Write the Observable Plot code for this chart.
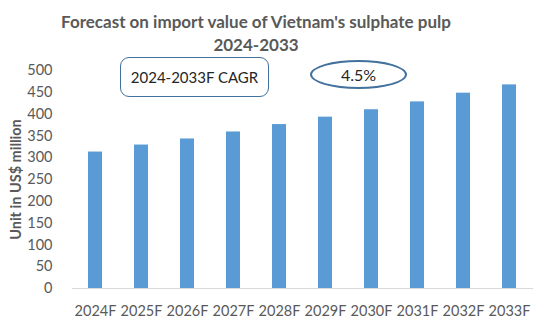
<!DOCTYPE html>
<html>
<head>
<meta charset="utf-8">
<script src="https://cdn.jsdelivr.net/npm/d3@7"></script>
<script src="https://cdn.jsdelivr.net/npm/@observablehq/plot@0.6"></script>
<style>
  html, body { margin: 0; padding: 0; background: #fff; }
  #wrap { position: relative; width: 550px; height: 333px; font-family: Lato, "Liberation Sans", sans-serif; background: #fff; }
  #chart svg { position: absolute; left: 0; top: 0; }
  .title { position: absolute; z-index: 2; left: 0; width: 512px; text-align: center; font-weight: bold; font-size: 17px; color: #595959; line-height: 1; }
  .box { position: absolute; z-index: 2; box-sizing: border-box; border: 1.6px solid #41719c; display: flex; align-items: center; justify-content: center; font-size: 15px; color: #262626; background: #fff; }
</style>
</head>
<body>
<div id="wrap">
  <div class="title" style="top:13px">Forecast on import value of Vietnam's sulphate pulp</div>
  <div class="title" style="top:36px">2024-2033</div>
  <div id="chart"></div>
  <div class="box" style="left:120px; top:57px; width:149px; height:40px; border-radius:9px;">2024-2033F CAGR</div>
  <div class="box" style="left:310px; top:60px; width:97px; height:29px; border-radius:50%; border-width:2px; font-size:16px;">4.5%</div>
</div>
<script>
const years = ["2024F","2025F","2026F","2027F","2028F","2029F","2030F","2031F","2032F","2033F"];
const values = [313, 329, 343, 359, 376, 393, 410, 428, 448, 467];
const yTicks = [0, 50, 100, 150, 200, 250, 300, 350, 400, 450, 500];
const yLabel = "Unit in US$ million";

const data = years.map((year, i) => ({year, value: values[i]}));

const chart = Plot.plot({
  width: 550,
  height: 333,
  marginTop: 70,
  marginBottom: 45,
  marginLeft: 72,
  marginRight: 17,
  style: {fontFamily: "Lato, 'Liberation Sans', sans-serif", fontSize: "14.5px", color: "#595959", background: "transparent"},
  x: {domain: years, paddingInner: 0.69, paddingOuter: 0.345, label: null},
  y: {domain: [0, 500], label: null},
  marks: [
    Plot.barY(data, {x: "year", y: "value", fill: "#5b9bd5"}),
    Plot.ruleY([0], {stroke: "#d9d9d9", strokeWidth: 1}),
    Plot.axisX({tickSize: 0, tickPadding: 17, fill: "#595959", fontSize: 14.5}),
    Plot.axisY(yTicks, {tickSize: 0, tickPadding: 20, fill: "#595959", fontSize: 14.5, label: null}),
    Plot.text([yLabel], {frameAnchor: "left", textAnchor: "middle", dx: -56, rotate: -90, fontWeight: "bold", fontSize: 14.5, fill: "#595959", text: d => d})
  ]
});
document.getElementById("chart").appendChild(chart);
</script>
</body>
</html>
